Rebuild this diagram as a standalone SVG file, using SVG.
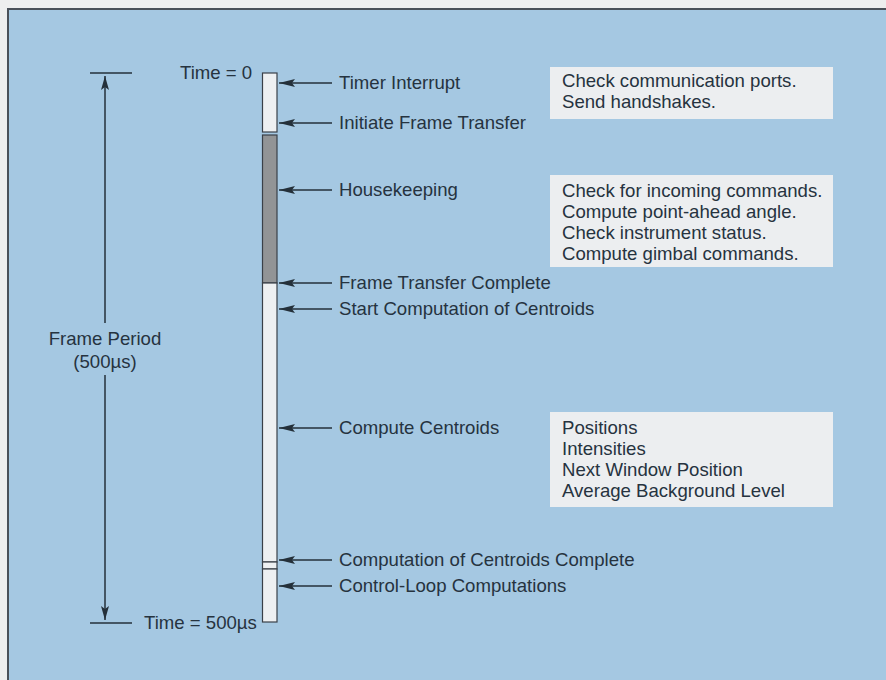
<svg xmlns="http://www.w3.org/2000/svg" width="886" height="680" viewBox="0 0 886 680">
<defs>
<marker id="ah" viewBox="0 0 16 8" refX="0" refY="4" markerWidth="16" markerHeight="8" markerUnits="userSpaceOnUse" orient="0">
<path d="M0,4 L16,0 L13,4 L16,8 Z" fill="#24303a"/>
</marker>
<marker id="vh" viewBox="0 0 8 14" refX="4" refY="0" markerWidth="8" markerHeight="14" markerUnits="userSpaceOnUse" orient="0">
<path d="M4,0 L0,14 L4,11 L8,14 Z" fill="#24303a"/>
</marker>
<marker id="vd" viewBox="0 0 8 14" refX="4" refY="14" markerWidth="8" markerHeight="14" markerUnits="userSpaceOnUse" orient="0">
<path d="M4,14 L0,0 L4,3 L8,0 Z" fill="#24303a"/>
</marker>
<style>
text{font-family:"Liberation Sans",Arial,sans-serif;font-size:18.6px;fill:#26333f}
.ln{stroke:#24303a;stroke-width:1.5;fill:none}
.box{fill:#eceef0}
.bar{stroke:#3a4048;stroke-width:1.2}
</style>
</defs>
<rect x="0" y="0" width="886" height="680" fill="#eeeeee"/>
<rect x="8" y="9" width="878" height="671" fill="#a5c8e2"/>
<path d="M8,680 L8,9 L886,9" stroke="#4a5058" stroke-width="2" fill="none"/>

<g id="dimension">
<line class="ln" x1="90" y1="73" x2="132" y2="73"/>
<line class="ln" x1="90" y1="623" x2="132" y2="623"/>
<line class="ln" x1="105" y1="76" x2="105" y2="323" marker-start="url(#vh)"/>
<line class="ln" x1="105" y1="375" x2="105" y2="620" marker-end="url(#vd)"/>
<text x="105" y="345" text-anchor="middle">Frame Period</text>
<text x="105" y="368" text-anchor="middle">(500µs)</text>
<text x="180" y="79">Time = 0</text>
<text x="144" y="629">Time = 500µs</text>
</g>

<g id="timeline-bar">
<rect class="bar" x="262.5" y="73" width="14.5" height="59" fill="#eef0f2"/>
<rect class="bar" x="262.5" y="135" width="14.5" height="148" fill="#929496"/>
<rect class="bar" x="262.5" y="283" width="14.5" height="279" fill="#eef0f2"/>
<rect class="bar" x="262.5" y="562" width="14.5" height="7" fill="#eef0f2"/>
<rect class="bar" x="262.5" y="569" width="14.5" height="53" fill="#eef0f2"/>
</g>

<g id="connectors">
<line class="ln" x1="279" y1="83" x2="332" y2="83" marker-start="url(#ah)"/>
<line class="ln" x1="279" y1="123" x2="332" y2="123" marker-start="url(#ah)"/>
<line class="ln" x1="279" y1="190" x2="332" y2="190" marker-start="url(#ah)"/>
<line class="ln" x1="279" y1="283" x2="332" y2="283" marker-start="url(#ah)"/>
<line class="ln" x1="279" y1="309" x2="332" y2="309" marker-start="url(#ah)"/>
<line class="ln" x1="279" y1="428" x2="332" y2="428" marker-start="url(#ah)"/>
<line class="ln" x1="279" y1="560" x2="332" y2="560" marker-start="url(#ah)"/>
<line class="ln" x1="279" y1="586" x2="332" y2="586" marker-start="url(#ah)"/>
</g>

<g id="labels">
<text x="339" y="89">Timer Interrupt</text>
<text x="339" y="129">Initiate Frame Transfer</text>
<text x="339" y="196">Housekeeping</text>
<text x="339" y="289">Frame Transfer Complete</text>
<text x="339" y="315">Start Computation of Centroids</text>
<text x="339" y="434">Compute Centroids</text>
<text x="339" y="566">Computation of Centroids Complete</text>
<text x="339" y="592">Control-Loop Computations</text>
</g>

<g id="note-timer">
<rect class="box" x="550" y="67" width="283" height="52"/>
<text x="562" y="87">Check communication ports.</text>
<text x="562" y="108">Send handshakes.</text>
</g>

<g id="note-housekeeping">
<rect class="box" x="550" y="175" width="283" height="92"/>
<text x="562" y="197">Check for incoming commands.</text>
<text x="562" y="218">Compute point-ahead angle.</text>
<text x="562" y="239">Check instrument status.</text>
<text x="562" y="260">Compute gimbal commands.</text>
</g>

<g id="note-centroids">
<rect class="box" x="550" y="412" width="283" height="95"/>
<text x="562" y="434">Positions</text>
<text x="562" y="455">Intensities</text>
<text x="562" y="476">Next Window Position</text>
<text x="562" y="497">Average Background Level</text>
</g>
</svg>
